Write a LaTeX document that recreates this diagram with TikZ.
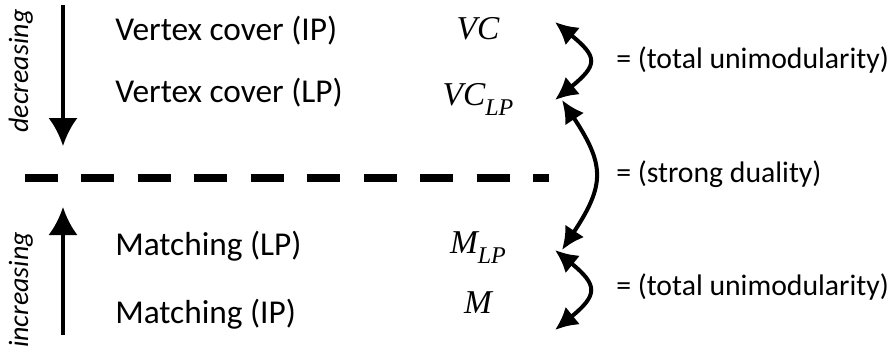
\documentclass[tikz,border=0pt]{standalone}
\usepackage{fontspec}
\setmainfont{Carlito}
\newfontfamily\mathfnt{Liberation Serif}
\usetikzlibrary{positioning}
\usetikzlibrary{arrows.meta}
\newcommand\lowsub[1]{\raisebox{-8pt}{\fontsize{18}{20}\selectfont #1}}
\tikzset{lbl/.style={anchor=base west, inner sep=0pt, font=\fontsize{25}{30}\selectfont},
         eqlbl/.style={anchor=base west, inner sep=0pt, font=\fontsize{22.3}{26}\selectfont},
         mathlbl/.style={anchor=base, inner sep=0pt, font=\mathfnt\itshape\fontsize{25}{30}\selectfont},
         trend/.style={rotate=90, anchor=base, inner sep=0pt, font=\itshape\fontsize{21}{25}\selectfont},
         bigarrow/.style={line width=3pt, -{Latex[length=21pt,width=22pt]}},
         eqarrow/.style={line width=3pt, {Latex[length=17pt,width=17pt]}-{Latex[length=17pt,width=17pt]}},
         divider/.style={line width=6pt, dash pattern=on 24.75pt off 17.6pt}}

\begin{document}
\begin{tikzpicture}[x=0.75pt, y=-0.75pt]
    \useasboundingbox (0,0) rectangle (894,358);
    \node[lbl] (vcip) at (115,40) {Vertex cover (IP)};
    \node[lbl] (vclp) at (115,102) {Vertex cover (LP)};
    \node[lbl] (mlp) at (115,255) {Matching (LP)};
    \node[lbl] (mip) at (115,323) {Matching (IP)};
    \node[mathlbl] (vc) at (478,39) {VC};
    \node[mathlbl] (vcl) at (478,105) {VC\lowsub{LP}};
    \node[mathlbl] (ml) at (478,253) {M\lowsub{LP}};
    \node[mathlbl] (m) at (478,313) {M};
    \node[eqlbl] (tu1) at (616,68) {= (total unimodularity)};
    \node[eqlbl] (sd) at (616,182) {= (strong duality)};
    \node[eqlbl] (tu2) at (616,295) {= (total unimodularity)};
    \node[trend] (dec) at (28,71) {decreasing};
    \node[trend] (inc) at (28,290) {increasing};
    \coordinate (decTop) at (63,5);
    \coordinate (decTip) at (63,146);
    \coordinate (incBot) at (63,335);
    \coordinate (incTip) at (63,207);
    \coordinate (cutL) at (25,177.5);
    \coordinate (cutR) at (549,177.5);
    \coordinate (vcA) at (555,22);
    \coordinate (vcB) at (555,100);
    \coordinate (lpA) at (562,100);
    \coordinate (lpB) at (562,250);
    \coordinate (mA) at (555,250);
    \coordinate (mB) at (555,330);
    \draw[bigarrow] (decTop) -- (decTip);
    \draw[bigarrow] (incBot) -- (incTip);
    \draw[divider] (cutL) -- (cutR);
    \draw[eqarrow] (vcA) .. controls +(43,35) and +(43,-35) .. (vcB);
    \draw[eqarrow] (lpA) .. controls +(43,65) and +(43,-65) .. (lpB);
    \draw[eqarrow] (mA) .. controls +(43,35) and +(43,-35) .. (mB);
\end{tikzpicture}
\end{document}
